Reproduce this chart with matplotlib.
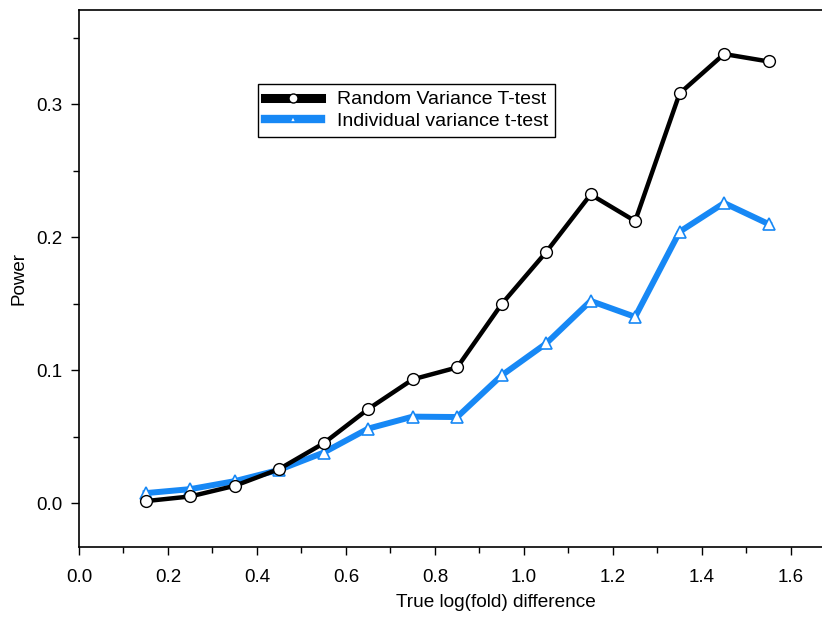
import numpy as np
import matplotlib.pyplot as plt
from matplotlib.ticker import MultipleLocator

plt.rcParams['font.family'] = ['Liberation Sans', 'DejaVu Sans']

# data
fold = [0.15, 0.25, 0.35, 0.45, 0.55, 0.65, 0.75, 0.85, 0.95, 1.05, 1.15, 1.25, 1.35, 1.45, 1.55]
random_var = [0.0015, 0.005, 0.013, 0.0256, 0.045, 0.0707, 0.093, 0.102, 0.1496,
              0.1887, 0.232, 0.212, 0.308, 0.3376, 0.332]
indiv_var = [0.0075, 0.0105, 0.0165, 0.025, 0.038, 0.056, 0.065, 0.0647, 0.096,
             0.120, 0.152, 0.140, 0.204, 0.2256, 0.2098]

blue = '#1788f5'

fig = plt.figure(figsize=(8.22, 6.19), dpi=100)
ax = fig.add_axes([79/822, 1-547/619, 1-79/822, (547-10)/619])

ax.plot(fold, random_var, color='black', lw=3.2, marker='o', ms=8.5,
        mfc='white', mec='black', mew=1.0, label='Random Variance T-test', zorder=3)
ax.plot(fold, indiv_var, color=blue, lw=4.3, marker='^', ms=8,
        mfc='white', mec=blue, mew=1.2, label='Individual variance t-test', zorder=2)

ax.set_xlim(0, 1.67)
ax.set_ylim(-0.033, 0.3707)
ax.xaxis.set_major_locator(MultipleLocator(0.2))
ax.xaxis.set_minor_locator(MultipleLocator(0.1))
ax.yaxis.set_major_locator(MultipleLocator(0.1))
ax.yaxis.set_minor_locator(MultipleLocator(0.05))
ax.xaxis.set_major_formatter(plt.FormatStrFormatter('%.1f'))
ax.yaxis.set_major_formatter(plt.FormatStrFormatter('%.1f'))

ax.spines['right'].set_visible(False)
for s in ['left', 'bottom', 'top']:
    ax.spines[s].set_linewidth(1.2)
ax.tick_params(which='major', direction='out', length=6, width=1, labelsize=13.5)
ax.tick_params(axis='x', which='major', pad=10)
ax.tick_params(axis='y', which='major', pad=6)
ax.tick_params(which='minor', direction='out', length=4, width=1)
ax.tick_params(top=False, which='both')

# the original plot area runs past the right edge, so the label sits right of centre
ax.set_xlabel('True log(fold) difference', fontsize=13.7)
ax.xaxis.set_label_coords(0.561, -0.088)
ax.set_ylabel('Power', fontsize=13.5, labelpad=6)

leg = ax.legend(loc='upper left', bbox_to_anchor=(258/822, 1-84/619),
                bbox_transform=fig.transFigure, borderaxespad=0,
                fontsize=14, handlelength=2.9, handletextpad=0.8,
                fancybox=False, edgecolor='black', framealpha=1,
                borderpad=0.35, labelspacing=0.2)
leg.get_frame().set_linewidth(1.0)
hl = leg.get_lines()
hl[0].set_linewidth(6.5)
hl[0].set_markersize(6.5)
hl[1].set_linewidth(6)
hl[1].set_markersize(4.5)

fig.savefig('out.png', dpi=100)
